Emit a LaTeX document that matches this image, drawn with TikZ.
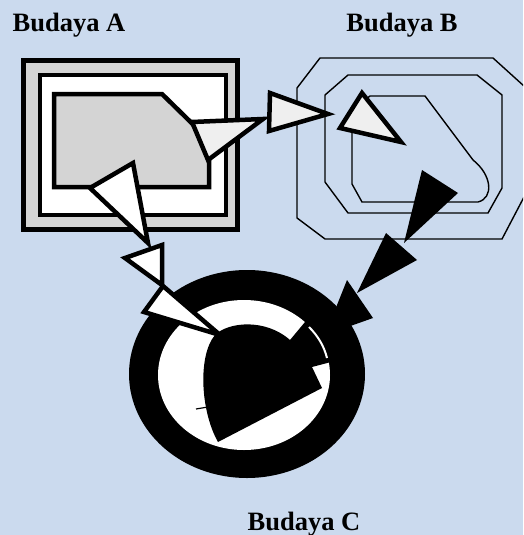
\documentclass[tikz,border=0pt]{standalone}
\usepackage{fontspec}
\setmainfont{Liberation Serif}
\definecolor{cSky}{RGB}{203,218,238}
\definecolor{cGrey}{HTML}{D4D4D4}
\definecolor{cPale}{HTML}{EFEFEF}
\tikzset{
  ttl/.style={font=\fontsize{26.5}{31}\selectfont\bfseries,inner sep=0pt,anchor=base},
  fat/.style={draw=black,line width=5pt},
  thin/.style={draw=black,line width=1.4pt},
  tipw/.style={draw=black,fill=white,line width=4.5pt},
  tipg/.style={draw=black,fill=cPale,line width=4.5pt},
  tipk/.style={fill=black},
}

\begin{document}
\begin{tikzpicture}[x=1pt,y=-1pt]
\useasboundingbox (0,0) rectangle (523,535);
\clip (0,0) rectangle (523,535);
\fill[cSky] (0,0) rectangle (523,535);

% labels
\node[ttl] (lblA) at (69,32) {Budaya A};
\node[ttl] (lblB) at (402,32) {Budaya B};
\node[ttl] (lblC) at (304,530) {Budaya C};

% Budaya A
\draw[fat,fill=cGrey] (23.5,60.5) rectangle (237.5,229.5);
\draw[fat,line width=4pt,fill=white] (40,75) rectangle (226,215);
\draw[fat,line width=4.5pt,fill=cGrey] (54,94) -- (162,94) -- (209,140) -- (209,187) -- (54,187) -- cycle;

% Budaya B
\draw[thin] (320,58) -- (493,58) -- (535,96) -- (535,176) -- (502,239) -- (325,239) -- (297,218) -- (297,88) -- cycle;
\draw[thin] (348,75) -- (477,75) -- (502,95) -- (502,188) -- (488,213) -- (348,213) -- (325,182) -- (325,95) -- cycle;
\draw[thin] (352,110) -- (370,96) -- (425,96) -- (473,160)
  .. controls (492,175) and (494,198) .. (478,202) -- (362,202) -- (352,184) -- cycle;
\draw[tipg] (362,93) -- (340,128) -- (401,142) -- cycle;

% A to B
\draw[tipg] (192,122) -- (263,119) -- (208,160) -- cycle;
\draw[tipg] (270,93) -- (328,114) -- (269,131) -- cycle;

% Budaya C
\fill[black] (247,374) ellipse [x radius=118,y radius=104];
\fill[white] (244,375) ellipse [x radius=86,y radius=75];
\fill[black] (218,442) .. controls (200,410) and (198,355) .. (215,335)
  .. controls (228,322) and (265,318) .. (290,340) -- (305,322) -- (312,316)
  -- (336,345) -- (331,362) -- (312,367) -- (322,388) -- cycle;
\draw[white,line width=2pt] (309,327) .. controls (318,336) and (324,346) .. (327,358);
\draw[black,line width=1.2pt] (196,409) -- (208,407);

% A to C
\draw[tipw] (133,163) -- (90,188) -- (148,243) -- cycle;
\draw[tipw] (162,245) -- (125,258) -- (162,285) -- cycle;
\draw[tipw] (163,286) -- (144,312) -- (220,335) -- cycle;

% B to C
\fill[tipk] (422,170) -- (458,193) -- (404,243) -- cycle;
\fill[tipk] (386,233) -- (417,260) -- (357,293) -- cycle;
\fill[tipk] (347,280) -- (373,318) -- (325,335) -- cycle;
\end{tikzpicture}
\end{document}
